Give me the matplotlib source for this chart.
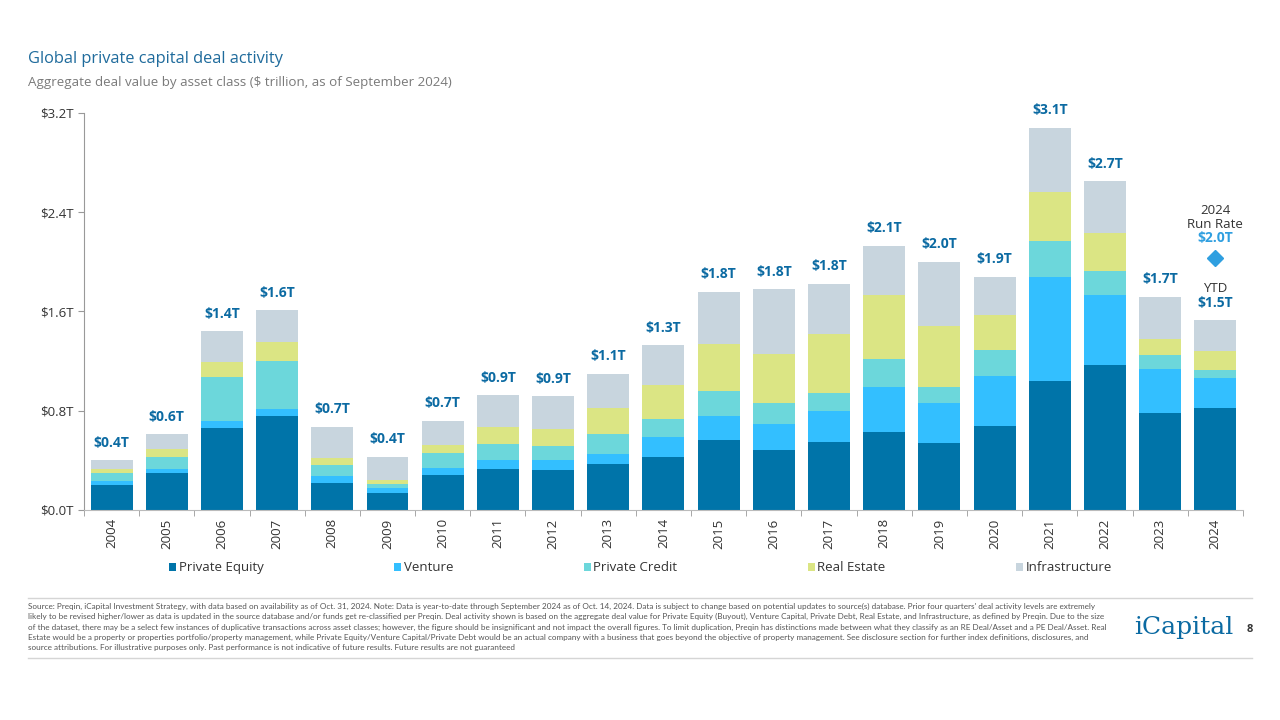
import numpy as np
import matplotlib
matplotlib.use("Agg")
import matplotlib.pyplot as plt
from matplotlib.ticker import FixedLocator

plt.rcParams['font.family'] = ['Open Sans', 'DejaVu Sans']

# data ($ trillion)
years = ["2004", "2005", "2006", "2007", "2008", "2009", "2010", "2011", "2012", "2013", "2014",
         "2015", "2016", "2017", "2018", "2019", "2020", "2021", "2022", "2023", "2024"]
private_equity = [0.20, 0.30, 0.66, 0.76, 0.215, 0.14, 0.28, 0.33, 0.32, 0.37, 0.43,
                  0.56, 0.48, 0.55, 0.63, 0.54, 0.68, 1.04, 1.17, 0.78, 0.82]
venture = [0.03, 0.03, 0.06, 0.05, 0.055, 0.04, 0.06, 0.075, 0.08, 0.08, 0.16,
           0.20, 0.21, 0.245, 0.36, 0.32, 0.40, 0.84, 0.56, 0.36, 0.24]
private_credit = [0.07, 0.10, 0.35, 0.39, 0.09, 0.03, 0.12, 0.13, 0.115, 0.16, 0.14,
                  0.20, 0.17, 0.15, 0.23, 0.13, 0.21, 0.29, 0.20, 0.11, 0.07]
real_estate = [0.03, 0.06, 0.12, 0.15, 0.06, 0.03, 0.06, 0.13, 0.14, 0.21, 0.28,
               0.38, 0.40, 0.47, 0.51, 0.49, 0.28, 0.39, 0.30, 0.13, 0.15]
infrastructure = [0.07, 0.12, 0.25, 0.26, 0.25, 0.19, 0.20, 0.26, 0.26, 0.28, 0.32,
                  0.42, 0.52, 0.41, 0.40, 0.52, 0.31, 0.52, 0.42, 0.34, 0.25]
total_labels = ["$0.4T", "$0.6T", "$1.4T", "$1.6T", "$0.7T", "$0.4T", "$0.7T", "$0.9T", "$0.9T",
                "$1.1T", "$1.3T", "$1.8T", "$1.8T", "$1.8T", "$2.1T", "$2.0T", "$1.9T", "$3.1T",
                "$2.7T", "$1.7T", "$1.5T"]
run_rate_2024 = 2.03
run_rate_label = "$2.0T"

series_names = ["Private Equity", "Venture", "Private Credit", "Real Estate", "Infrastructure"]
series_vals = [private_equity, venture, private_credit, real_estate, infrastructure]
colors = ["#0074a9", "#33bfff", "#6cd7db", "#dbe584", "#c8d5de"]
label_blue = "#0b6aa2"
text_dark = "#333333"

fig = plt.figure(figsize=(12.8, 7.2), dpi=100)
ax = fig.add_axes([0.0656, 0.2917, 0.9054, 0.5514])

x = np.arange(len(years))
bottom = np.zeros(len(years))
for name, vals, c in zip(series_names, series_vals, colors):
    ax.bar(x, vals, 0.76, bottom=bottom, color=c, label=name, zorder=2)
    bottom = bottom + np.array(vals)

# total labels
for i, lab in enumerate(total_labels):
    ax.annotate(lab, (x[i], bottom[i]), xytext=(0, 12.5), textcoords="offset points",
                ha="center", va="center", fontsize=10, fontweight="bold", color=label_blue)
ax.annotate("YTD", (x[-1], bottom[-1]), xytext=(0, 22.5), textcoords="offset points",
            ha="center", va="center", fontsize=9.5, color=text_dark)

# 2024 run rate
ax.plot([x[-1]], [run_rate_2024], marker="D", markersize=8, color="#2f9fe0", zorder=3)
ax.annotate(run_rate_label, (x[-1], run_rate_2024), xytext=(0, 14.5), textcoords="offset points",
            ha="center", va="center", fontsize=10, fontweight="bold", color="#2f9fe0")
ax.annotate("Run Rate", (x[-1], run_rate_2024), xytext=(0, 24.5), textcoords="offset points",
            ha="center", va="center", fontsize=9.5, color=text_dark)
ax.annotate("2024", (x[-1], run_rate_2024), xytext=(0, 34), textcoords="offset points",
            ha="center", va="center", fontsize=9.5, color=text_dark)

ax.set_xlim(-0.5, len(years) - 0.5)
ax.set_ylim(0, 3.2)
ax.set_yticks([0, 0.8, 1.6, 2.4, 3.2])
ax.set_yticklabels(["$0.0T", "$0.8T", "$1.6T", "$2.4T", "$3.2T"])
ax.set_xticks(x)
ax.set_xticklabels(years, rotation=90)
ax.xaxis.set_minor_locator(FixedLocator(np.arange(-0.5, len(years), 1.0)))
ax.tick_params(axis="x", which="major", length=0, labelsize=9.5, labelcolor=text_dark, pad=6)
ax.tick_params(axis="x", which="minor", length=4, color="#999999")
ax.tick_params(axis="y", length=4, color="#999999", labelsize=9.5, labelcolor=text_dark)
for s in ["top", "right"]:
    ax.spines[s].set_visible(False)
ax.spines["left"].set_color("#999999")
ax.spines["bottom"].set_color("#bbbbbb")

fig.legend(loc="lower left", bbox_to_anchor=(0.128, 0.195, 0.745, 0.03), mode="expand", ncol=5,
           frameon=False, fontsize=9.5, handlelength=0.55, handleheight=0.55, handletextpad=0.2,
           borderaxespad=0, labelcolor=text_dark)

# titles
fig.text(0.022, 0.918, "Global private capital deal activity", fontsize=11.8, color="#1f6b9c",
         va="center")
fig.text(0.022, 0.885, "Aggregate deal value by asset class ($ trillion, as of September 2024)",
         fontsize=9.6, color="#7a7a7a", va="center")

# footer
footer = ("Source: Preqin, iCapital Investment Strategy, with data based on availability as of Oct. 31, 2024. Note: Data is year-to-date through September 2024 as of Oct. 14, 2024. Data is subject to change based on potential updates to source(s) database. Prior four quarters' deal activity levels are extremely\n"
          "likely to be revised higher/lower as data is updated in the source database and/or funds get re-classified per Preqin. Deal activity shown is based on the aggregate deal value for Private Equity (Buyout), Venture Capital, Private Debt, Real Estate, and Infrastructure, as defined by Preqin. Due to the size\n"
          "of the dataset, there may be a select few instances of duplicative transactions across asset classes; however, the figure should be insignificant and not impact the overall figures. To limit duplication, Preqin has distinctions made between what they classify as an RE Deal/Asset and a PE Deal/Asset. Real\n"
          "Estate would be a property or properties portfolio/property management, while Private Equity/Venture Capital/Private Debt would be an actual company with a business that goes beyond the objective of property management. See disclosure section for further index definitions, disclosures, and\n"
          "source attributions. For illustrative purposes only. Past performance is not indicative of future results. Future results are not guaranteed")
fig.text(0.022, 0.129, footer, fontsize=5.9, color="#555555", va="center", ha="left",
         linespacing=1.55, family=["Lato", "DejaVu Sans"])
fig.add_artist(plt.Line2D([0.022, 0.978], [0.169, 0.169], color="#d5d5d5", lw=1))
fig.add_artist(plt.Line2D([0.022, 0.978], [0.086, 0.086], color="#d5d5d5", lw=1))

fig.text(0.886, 0.129, "iCapital", fontsize=18, color="#0b6aa2", va="center",
         family=["DejaVu Serif", "Liberation Serif"])
fig.text(0.974, 0.125, "8", fontsize=8, fontweight="bold", color=text_dark, va="center")

fig.savefig("out.png", dpi=100)
